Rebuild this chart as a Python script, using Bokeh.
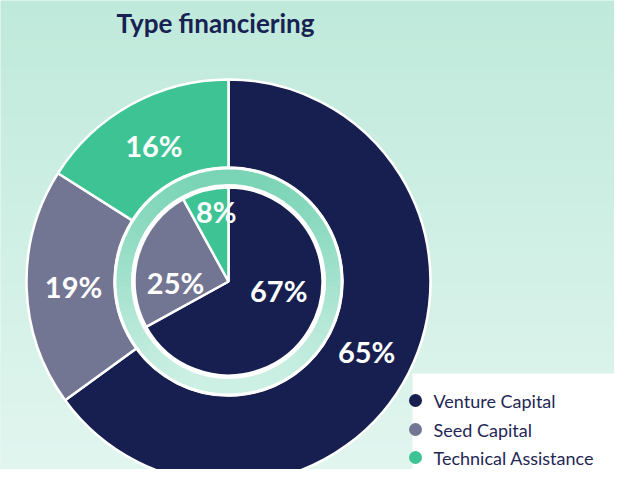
import numpy as np
from bokeh.plotting import figure
from bokeh.models import Range1d, ColumnDataSource
from bokeh.core.properties import value
from bokeh.embed import file_html
from bokeh.resources import INLINE

# ---------------- data ----------------
title = "Type financiering"
categories = ["Venture Capital", "Seed Capital", "Technical Assistance"]
outer_values = [65, 19, 16]   # outer ring (%)
inner_values = [67, 25, 8]    # inner pie (%)
colors = ["#161f4f", "#727693", "#3ec395"]

# ---------------- layout ----------------
PAGE_H = 485
W, H = 614, 469
FONT = "Lato"
cx, cy = 228, PAGE_H - 281
R_OUT, R_HOLE = 202, 114
R_RING_OUT, R_RING_IN = 112, 97.5
R_PIE = 94
OUTER_LABEL_R = 155
inner_label_polar = [(-10, 51), (181, 53), (100, 71)]  # (deg, radius) placement


def wedge_angles(vals):
    tot = float(sum(vals))
    cum = np.concatenate([[0], np.cumsum(vals)]) / tot * 360.0
    starts = 90 - cum[:-1]
    ends = 90 - cum[1:]
    return starts, ends


p = figure(width=W, height=H, x_range=Range1d(0, W), y_range=Range1d(PAGE_H - H, PAGE_H),
           output_backend="svg", toolbar_location=None, min_border=0)
p.axis.visible = False
p.grid.visible = False
p.outline_line_color = None
p.background_fill_color = "#d0f0e5"
p.border_fill_color = "#d0f0e5"

# background vertical gradient
top_c = np.array([191, 234, 219])
bot_c = np.array([227, 246, 240])
ys = np.arange(H)  # row 0 = bottom
t = (H - ys) / PAGE_H  # screen y fraction
img = np.zeros((H, W), dtype=np.uint32)
view = img.view(dtype=np.uint8).reshape((H, W, 4))
cols = (top_c[None, :] * (1 - t[:, None]) + bot_c[None, :] * t[:, None]).astype(np.uint8)
view[:, :, 0] = cols[:, 0][:, None]
view[:, :, 1] = cols[:, 1][:, None]
view[:, :, 2] = cols[:, 2][:, None]
view[:, :, 3] = 255
p.image_rgba(image=[img], x=0, y=PAGE_H - H, dw=W, dh=H)

# outer donut
os_, oe_ = wedge_angles(outer_values)
src_o = ColumnDataSource(dict(start=os_, end=oe_, color=colors, cat=categories))
p.annular_wedge(x=cx, y=cy, inner_radius=R_HOLE, outer_radius=R_OUT, start_angle="start", end_angle="end",
                direction="clock", start_angle_units="deg", end_angle_units="deg", fill_color="color",
                line_color="white", line_width=2.5, source=src_o)

# white hole
p.circle(x=cx, y=cy, radius=R_HOLE + 1, fill_color="white", line_color=None)

# decorative gradient ring
N = 120
step = 360.0 / N
a0 = np.arange(N) * step
mid = np.radians(a0 + step / 2)
tt = (1 - np.sin(mid)) / 2
ring_top = np.array([122, 212, 182])
ring_bot = np.array([206, 241, 229])
ring_cols = ["#%02x%02x%02x" % tuple((ring_top * (1 - v) + ring_bot * v).astype(int)) for v in tt]
p.annular_wedge(x=cx, y=cy, inner_radius=R_RING_IN, outer_radius=R_RING_OUT, start_angle=a0,
                end_angle=a0 + step + 0.4, direction="anticlock", start_angle_units="deg",
                end_angle_units="deg", fill_color=ring_cols, line_color=None)

# inner pie
is_, ie_ = wedge_angles(inner_values)
src_i = ColumnDataSource(dict(start=is_, end=ie_, color=colors))
p.wedge(x=cx, y=cy, radius=R_PIE, start_angle="start", end_angle="end", direction="clock",
        start_angle_units="deg", end_angle_units="deg", fill_color="color", line_color="white",
        line_width=2.5, source=src_i)

# labels
omid = np.radians((os_ + oe_) / 2)
p.text(x=cx + OUTER_LABEL_R * np.cos(omid), y=cy + OUTER_LABEL_R * np.sin(omid),
       text=[f"{v}%" for v in outer_values], text_color="white", text_font=value(FONT),
       text_font_style="bold", text_font_size="29px", text_align="center", text_baseline="middle")
ix = [cx + r * np.cos(np.radians(a)) for a, r in inner_label_polar]
iy = [cy + r * np.sin(np.radians(a)) for a, r in inner_label_polar]
p.text(x=ix, y=iy, text=[f"{v}%" for v in inner_values], text_color="white", text_font=value(FONT),
       text_font_style="bold", text_font_size="29px", text_align="center", text_baseline="middle")

# title
p.text(x=[215], y=[PAGE_H - 22], text=[title], text_color="#172152", text_font=value(FONT),
       text_font_style="bold", text_font_size="26px", text_align="center", text_baseline="middle")

# legend
p.quad(left=412, right=640, top=PAGE_H - 373, bottom=0, fill_color="white", line_color=None)
ly = [PAGE_H - 400, PAGE_H - 429, PAGE_H - 457]
p.scatter(x=[415] * 3, y=ly, size=13, fill_color=colors, line_color=None)
p.text(x=[433] * 3, y=ly, text=categories, text_color="#1f2755", text_font=value(FONT),
       text_font_size="18px", text_align="left", text_baseline="middle")

open("out.html", "w").write(file_html(p, INLINE))
